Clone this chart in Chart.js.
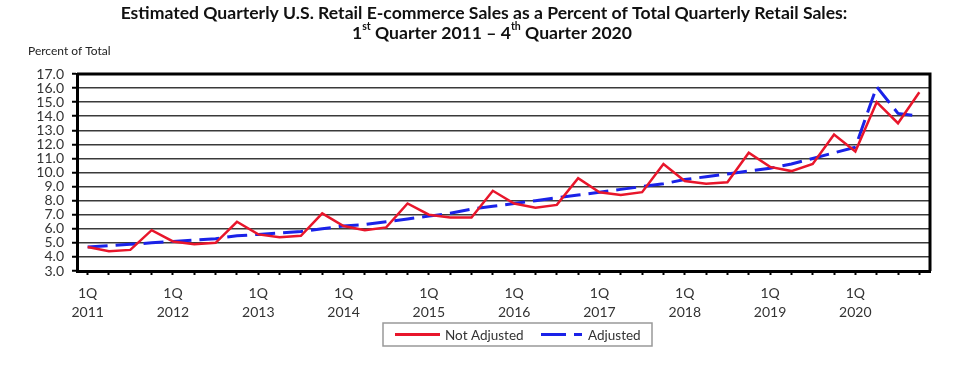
<!DOCTYPE html>
<html><head><meta charset="utf-8">
<script src="https://cdn.jsdelivr.net/npm/chart.js@4/dist/chart.umd.min.js"></script>
<style>html,body{margin:0;padding:0;background:#fff}#wrap{width:962px;height:371px;position:relative}</style>
</head><body><div id="wrap"><canvas id="c" width="962" height="371"></canvas></div>
<script>
const categories = [
  "1Q 2011","2Q 2011","3Q 2011","4Q 2011",
  "1Q 2012","2Q 2012","3Q 2012","4Q 2012",
  "1Q 2013","2Q 2013","3Q 2013","4Q 2013",
  "1Q 2014","2Q 2014","3Q 2014","4Q 2014",
  "1Q 2015","2Q 2015","3Q 2015","4Q 2015",
  "1Q 2016","2Q 2016","3Q 2016","4Q 2016",
  "1Q 2017","2Q 2017","3Q 2017","4Q 2017",
  "1Q 2018","2Q 2018","3Q 2018","4Q 2018",
  "1Q 2019","2Q 2019","3Q 2019","4Q 2019",
  "1Q 2020","2Q 2020","3Q 2020","4Q 2020"
];
const notAdjusted = [
  4.7, 4.4, 4.5, 5.9,
  5.1, 4.9, 5.0, 6.5,
  5.6, 5.4, 5.5, 7.1,
  6.2, 5.9, 6.1, 7.8,
  7.0, 6.8, 6.8, 8.7,
  7.8, 7.5, 7.7, 9.6,
  8.6, 8.4, 8.6, 10.6,
  9.4, 9.2, 9.3, 11.4,
  10.4, 10.1, 10.6, 12.7,
  11.5, 15.0, 13.5, 15.7
];
const adjusted = [
  4.7, 4.8, 4.9, 5.0,
  5.1, 5.2, 5.3, 5.5,
  5.6, 5.7, 5.8, 6.0,
  6.2, 6.3, 6.5, 6.7,
  6.9, 7.1, 7.4, 7.6,
  7.8, 8.0, 8.2, 8.4,
  8.6, 8.8, 9.0, 9.2,
  9.5, 9.7, 9.9, 10.1,
  10.3, 10.6, 11.0, 11.4,
  11.8, 16.1, 14.2, 14.0
];
const seriesNames = ["Not Adjusted", "Adjusted"];
const yMin = 3, yMax = 17, yStep = 1;
const titleLine1 = "Estimated Quarterly U.S. Retail E-commerce Sales as a Percent of Total Quarterly Retail Sales:";
const titleLine2Parts = [["1", false], ["st", true], [" Quarter 2011 \u2013 4", false], ["th", true], [" Quarter 2020", false]];
const yAxisTitle = "Percent of Total";

const RED = '#e8162b';
const BLUE = '#1a22e8';
const FONT = 'Lato';

const decor = {
  id: 'decor',
  afterDraw(chart) {
    const ctx = chart.ctx;
    const a = chart.chartArea;
    ctx.save();
    ctx.strokeStyle = '#000';
    ctx.lineWidth = 3;
    ctx.beginPath();
    ctx.moveTo(a.left, a.top);
    ctx.lineTo(a.right, a.top);
    ctx.lineTo(a.right, a.bottom);
    ctx.stroke();

    ctx.fillStyle = '#111';
    ctx.textBaseline = 'middle';
    ctx.font = 'bold 100px ' + FONT;
    const w100 = ctx.measureText(titleLine1).width;
    const fs = 100 * 727 / w100;
    ctx.font = 'bold ' + fs + 'px ' + FONT;
    ctx.textAlign = 'center';
    ctx.fillText(titleLine1, 484, 13);
    ctx.textAlign = 'left';
    const fs2 = fs;
    let total = 0;
    const widths = titleLine2Parts.map(([t, sup]) => {
      ctx.font = 'bold ' + (sup ? fs2 * 0.6 : fs2) + 'px ' + FONT;
      const w = ctx.measureText(t).width; total += w; return w;
    });
    let x = 492 - total / 2;
    titleLine2Parts.forEach(([t, sup], i) => {
      ctx.font = 'bold ' + (sup ? fs2 * 0.6 : fs2) + 'px ' + FONT;
      ctx.fillText(t, x, sup ? 33 - fs2 * 0.35 : 33);
      x += widths[i];
    });

    ctx.font = '12px ' + FONT;
    ctx.fillStyle = '#222';
    ctx.fillText(yAxisTitle, 28, 51);

    const lx = 383, ly = 323, lw = 269, lh = 23;
    ctx.strokeStyle = '#999';
    ctx.lineWidth = 1.5;
    ctx.strokeRect(lx, ly, lw, lh);
    const cy = ly + lh / 2;
    ctx.lineWidth = 3;
    ctx.strokeStyle = RED;
    ctx.beginPath(); ctx.moveTo(395, cy); ctx.lineTo(440, cy); ctx.stroke();
    ctx.strokeStyle = BLUE;
    ctx.setLineDash([25, 8]);
    ctx.beginPath(); ctx.moveTo(541, cy); ctx.lineTo(582, cy); ctx.stroke();
    ctx.setLineDash([]);
    ctx.fillStyle = '#333';
    ctx.font = '13.5px ' + FONT;
    ctx.fillText(seriesNames[0], 445, cy + 1);
    ctx.fillText(seriesNames[1], 588, cy + 1);
    ctx.restore();
  }
};

new Chart(document.getElementById('c'), {
  type: 'line',
  data: {
    labels: categories,
    datasets: [
      { label: seriesNames[0], data: notAdjusted, borderColor: RED, borderWidth: 2.5, pointRadius: 0, tension: 0, fill: false },
      { label: seriesNames[1], data: adjusted, borderColor: BLUE, borderWidth: 3, borderDash: [20, 8], pointRadius: 0, tension: 0, fill: false }
    ]
  },
  options: {
    responsive: false,
    animation: false,
    devicePixelRatio: 1,
    layout: { padding: { top: 74, right: 32, left: 0, bottom: 0 } },
    plugins: { legend: { display: false }, title: { display: false }, tooltip: { enabled: false } },
    scales: {
      y: {
        min: yMin, max: yMax,
        ticks: { stepSize: yStep, autoSkip: false, callback: v => Number(v).toFixed(1), color: '#333', font: { family: FONT, size: 14, lineHeight: 1 }, padding: 8 },
        grid: { color: '#3a3a3a', lineWidth: 1.5, tickLength: 5, tickColor: '#000', tickWidth: 2 },
        border: { color: '#000', width: 3 },
        afterFit: s => { s.width = 77; }
      },
      x: {
        offset: true,
        grid: { display: true, drawOnChartArea: false, offset: false, tickLength: 4, tickColor: '#000', tickWidth: 2 },
        border: { color: '#000', width: 3 },
        ticks: {
          autoSkip: false, maxRotation: 0, minRotation: 0,
          callback: (v, i) => i % 4 === 0 ? [categories[i].slice(0, 2), categories[i].slice(3)] : '',
          color: '#333', font: { family: FONT, size: 14, lineHeight: 1.35 }, padding: 9
        },
        afterFit: s => { s.height = 100; }
      }
    }
  },
  plugins: [decor]
});
</script></body></html>
